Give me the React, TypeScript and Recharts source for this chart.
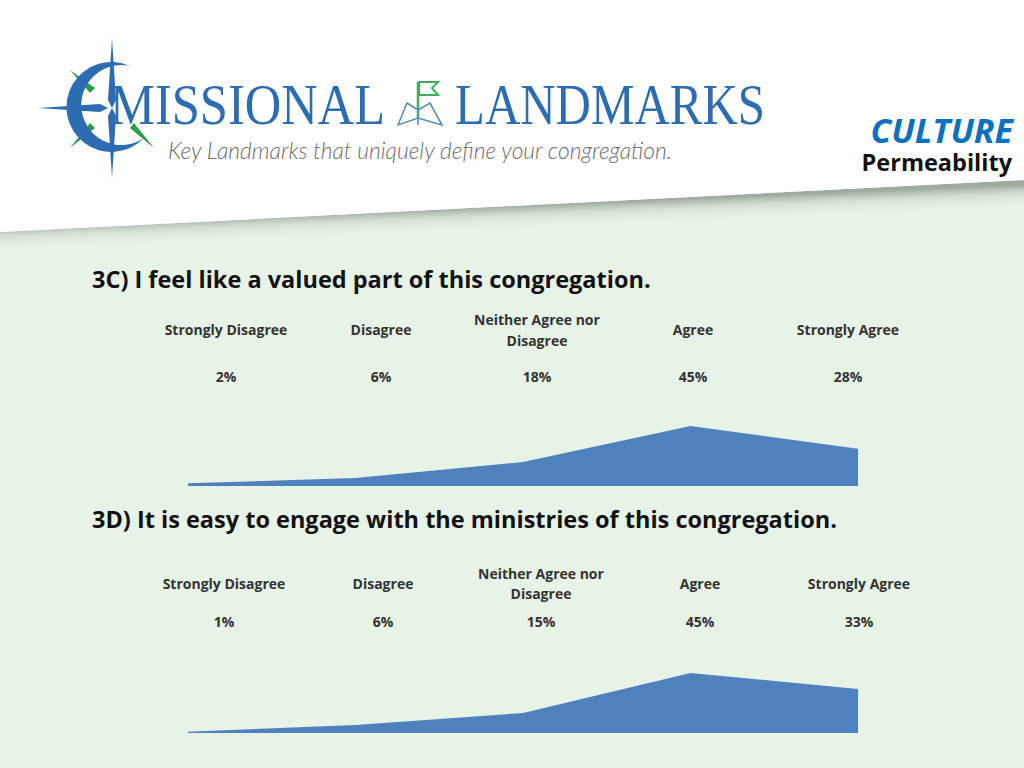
import React from "react";
import { AreaChart, Area, XAxis, YAxis } from "recharts";

const categories = ["Strongly Disagree", "Disagree", "Neither Agree nor Disagree", "Agree", "Strongly Agree"];
const headerLines = [["Strongly Disagree"], ["Disagree"], ["Neither Agree nor", "Disagree"], ["Agree"], ["Strongly Agree"]];
const values3C = [2, 6, 18, 45, 28];
const values3D = [1, 6, 15, 45, 33];
const title3C = "3C) I feel like a valued part of this congregation.";
const title3D = "3D) It is easy to engage with the ministries of this congregation.";

const data3C = categories.map((c, i) => ({ name: c, v: values3C[i] }));
const data3D = categories.map((c, i) => ({ name: c, v: values3D[i] }));

const FONT = "'Open Sans', Lato, sans-serif";
const BLUE = "#4f81bd";

function Area1({ data, top }: { data: any[]; top: number }) {
  return (
    <div style={{ position: "absolute", left: 188, top }}>
      <AreaChart width={670} height={60} data={data} margin={{ top: 0, right: 0, bottom: 0, left: 0 }}>
        <XAxis dataKey="name" hide padding={{ left: 0, right: 0 }} />
        <YAxis hide domain={[0, 45]} />
        <Area type="linear" dataKey="v" stroke="none" fill={BLUE} fillOpacity={1} isAnimationActive={false} />
      </AreaChart>
    </div>
  );
}

function Table({ centers, single, two, val, vals }: { centers: number[]; single: number; two: number[]; val: number; vals: number[] }) {
  return (
    <g fontFamily={FONT} fontWeight={700} fontSize={14} fill="#333" textAnchor="middle">
      {headerLines.map((lines, i) =>
        lines.length === 1 ? (
          <text key={"h" + i} x={centers[i]} y={single}>{lines[0]}</text>
        ) : (
          lines.map((l, j) => (
            <text key={"h" + i + "-" + j} x={centers[i]} y={two[j]}>{l}</text>
          ))
        )
      )}
      {vals.map((v, i) => (
        <text key={"v" + i} x={centers[i]} y={val}>{v + "%"}</text>
      ))}
    </g>
  );
}

export default function App() {
  return (
    <div style={{ position: "absolute", left: 0, top: 0, width: 1024, height: 768, overflow: "hidden", background: "#e7f3e6" }}>
      <svg width={1024} height={768} style={{ position: "absolute", left: 0, top: 0 }}>
        <defs>
          <linearGradient id="sh" gradientUnits="userSpaceOnUse" x1={512} y1={206} x2={513} y2={230}>
            <stop offset="0" stopColor="#8e998e" stopOpacity={0.8} />
            <stop offset="0.35" stopColor="#b4c0b4" stopOpacity={0.45} />
            <stop offset="1" stopColor="#e7f3e6" stopOpacity={0} />
          </linearGradient>
        </defs>
        <polygon points="0,232 1024,180 1024,206 0,258" fill="url(#sh)" />
        <polygon points="0,0 1024,0 1024,180 0,232" fill="#ffffff" />

        {/* compass */}
        <g>
          <polygon points="112,38 116,100 112,108 108,100" fill="#2b6cb3" />
          <polygon points="112,178 116,116 112,108 108,116" fill="#2b6cb3" />
          <polygon points="38,108 100,104 108,108 100,112" fill="#2b6cb3" />
          <polygon points="70,70 95,88 90,93" fill="#2e9c4a" />
          <polygon points="70,148 90,123 95,128" fill="#2e9c4a" />
          <polygon points="154,148 130,128 134,123" fill="#2e9c4a" />
          <path d="M130,66 A45,45 0 1 0 144,138 A40,40 0 1 1 130,66 Z" fill="#2b6cb3" />
          <path d="M104,72 A38,38 0 0 0 130,145 A36,36 0 0 1 104,72 Z" fill="#2e9c4a" />
        </g>
        <g fontFamily="'Liberation Serif', 'DejaVu Serif', serif" fill="#2b6cb3" fontSize={57}>
          <text x={110} y={124} textLength={275} lengthAdjust="spacingAndGlyphs">MISSIONAL</text>
          <text x={455} y={124} textLength={310} lengthAdjust="spacingAndGlyphs">LANDMARKS</text>
        </g>
        {/* flag icon */}
        <g>
          <line x1={418} y1={82} x2={418} y2={118} stroke="#3fae5a" strokeWidth={2.5} />
          <polygon points="419,82 438,82 432,88 438,95 419,95" fill="none" stroke="#3fae5a" strokeWidth={2} />
          <path d="M398,125 L407,103 L418,110 L430,103 L442,125 L418,118 Z M418,110 L418,125" fill="none" stroke="#5b8fb0" strokeWidth={1.6} />
        </g>
        <text x={168} y={159} fontFamily="Lato, sans-serif" fontWeight={300} fontStyle="italic" fontSize={24} fill="#6b6b6b" textLength={504} lengthAdjust="spacingAndGlyphs">Key Landmarks that uniquely define your congregation.</text>

        <text x={1013} y={143} textAnchor="end" fontFamily={FONT} fontWeight={700} fontStyle="italic" fontSize={34} fill="#0a70c0">CULTURE</text>
        <text x={1012} y={171} textAnchor="end" fontFamily={FONT} fontWeight={700} fontSize={23.5} fill="#111">Permeability</text>

        <text x={92} y={288} fontFamily={FONT} fontWeight={700} fontSize={23.5} fill="#111">{title3C}</text>
        <text x={92} y={528} fontFamily={FONT} fontWeight={700} fontSize={23.5} fill="#111">{title3D}</text>

        <Table centers={[226, 381, 537, 693, 848]} single={335} two={[325, 346]} val={382} vals={values3C} />
        <Table centers={[224, 383, 541, 700, 859]} single={589} two={[579, 599]} val={627} vals={values3D} />
      </svg>
      <Area1 data={data3C} top={426} />
      <Area1 data={data3D} top={673} />
    </div>
  );
}
